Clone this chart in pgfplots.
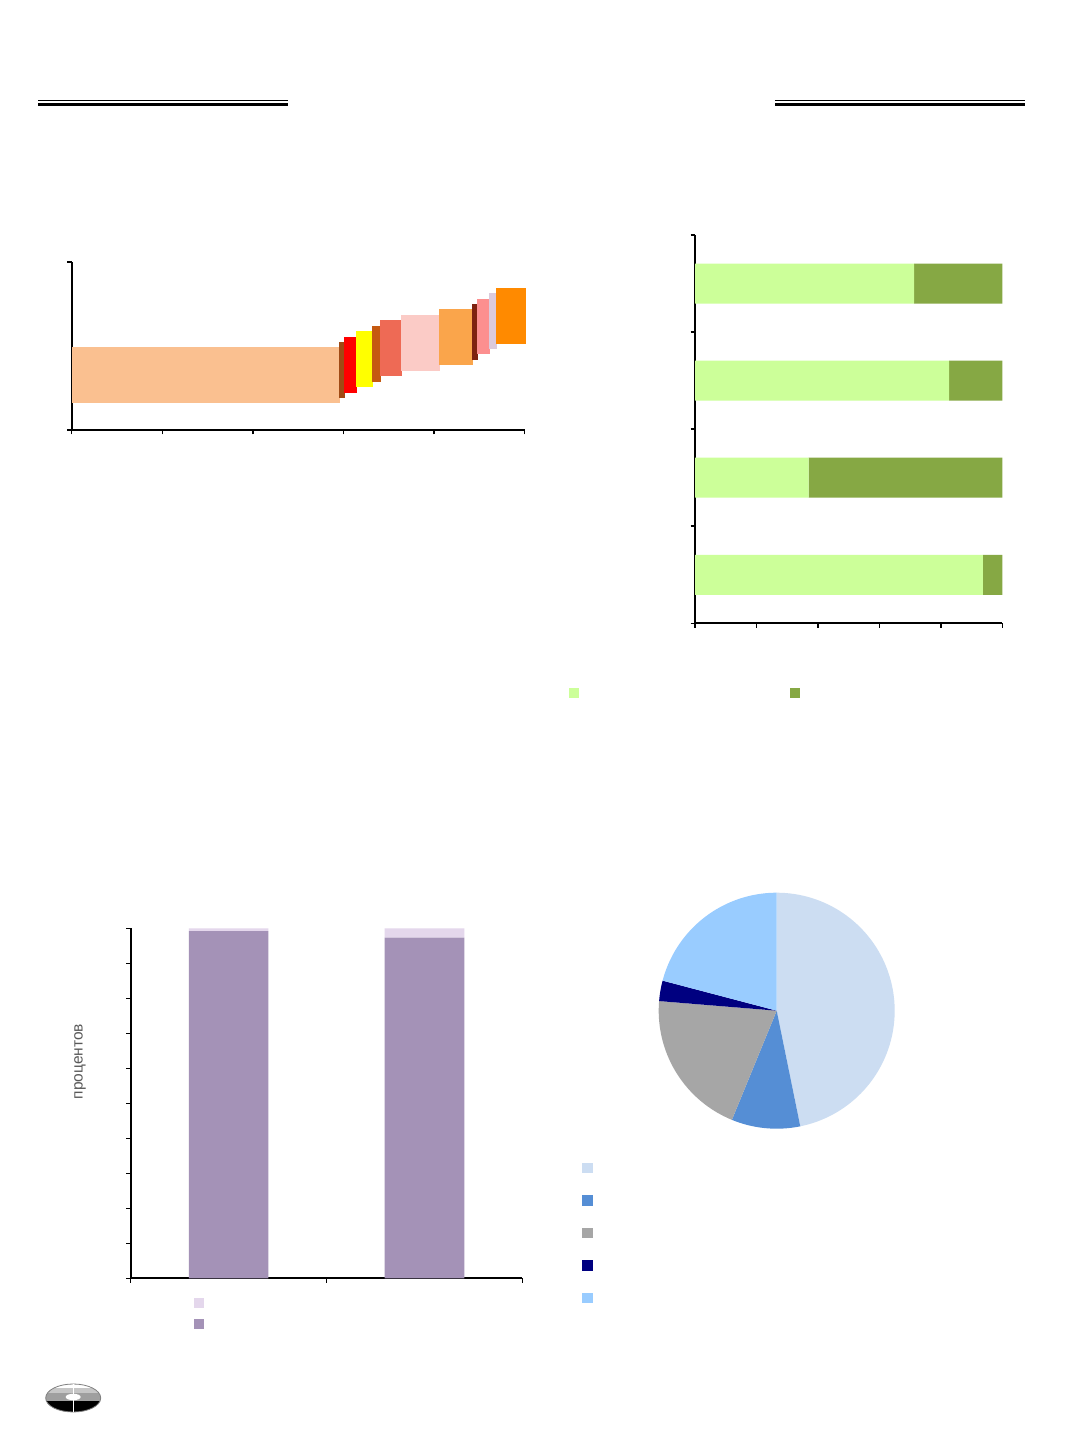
\documentclass[border=0pt]{standalone}
\usepackage{pgfplots}
\pgfplotsset{compat=1.18}
\usepackage{fontspec}
\setmainfont{Liberation Sans}
\definecolor{b1}{HTML}{FAC090}
\definecolor{b2}{HTML}{A04A14}
\definecolor{b3}{HTML}{FF0000}
\definecolor{b4}{HTML}{FFFF00}
\definecolor{b5}{HTML}{C55A11}
\definecolor{b6}{HTML}{EE6A55}
\definecolor{b7}{HTML}{FBCBC6}
\definecolor{b8}{HTML}{FAA54B}
\definecolor{b9}{HTML}{7E2210}
\definecolor{b10}{HTML}{FC8F8F}
\definecolor{b11}{HTML}{DCCADC}
\definecolor{b12}{HTML}{FF8A00}
\definecolor{lg}{HTML}{CCFF99}
\definecolor{dg}{HTML}{86A844}
\definecolor{pd}{HTML}{A492B7}
\definecolor{pl}{HTML}{E4D7EC}
\definecolor{p1}{HTML}{CCDDF2}
\definecolor{p2}{HTML}{558ED5}
\definecolor{p3}{HTML}{A6A6A6}
\definecolor{p4}{HTML}{000080}
\definecolor{p5}{HTML}{99CCFF}
\definecolor{textgray}{HTML}{595959}
\pgfplotsset{
  mystyle/.style={
    scale only axis, axis lines=left, enlargelimits=false,
    axis line style={-, line width=1.9pt, black},
    tick style={black, line width=1.5pt},
    major tick length=4.5pt, tick align=outside,
    xticklabels={}, yticklabels={},
    clip=false,
  },
}
\begin{document}
\begin{tikzpicture}[x=1pt,y=1pt]
\path[use as bounding box, fill=white] (0,0) rectangle (1072,1433);
% header rules
\draw[line width=1.3pt] (38,1332.2) -- (287.5,1332.2);
\draw[line width=3pt] (38,1328.2) -- (287.5,1328.2);
\draw[line width=1.3pt] (775,1332.2) -- (1025,1332.2);
\draw[line width=3pt] (775,1328.2) -- (1025,1328.2);

% ---------- Chart 1: cost curve ----------
\begin{axis}[mystyle, width=453pt, height=168pt, at={(71.7pt,1003pt)}, anchor=south west,
  xmin=0, xmax=5, ymin=0, ymax=1, xtick={0,1,2,3,4,5}, ytick={0,1}]
\addplot[fill=b1, draw=none] coordinates {(0,0.159) (2.96,0.159) (2.96,0.492) (0,0.492)} -- cycle;
\addplot[fill=b2, draw=none] coordinates {(2.950,0.192) (3.017,0.192) (3.017,0.522) (2.950,0.522)} -- cycle;
\addplot[fill=b3, draw=none] coordinates {(3.005,0.222) (3.152,0.222) (3.152,0.555) (3.005,0.555)} -- cycle;
\addplot[fill=b4, draw=none] coordinates {(3.135,0.256) (3.329,0.256) (3.329,0.589) (3.135,0.589)} -- cycle;
\addplot[fill=b5, draw=none] coordinates {(3.315,0.288) (3.414,0.288) (3.414,0.621) (3.315,0.621)} -- cycle;
\addplot[fill=b6, draw=none] coordinates {(3.400,0.321) (3.649,0.321) (3.649,0.655) (3.400,0.655)} -- cycle;
\addplot[fill=b7, draw=none] coordinates {(3.631,0.353) (4.065,0.353) (4.065,0.685) (3.631,0.685)} -- cycle;
\addplot[fill=b8, draw=none] coordinates {(4.054,0.385) (4.433,0.385) (4.433,0.718) (4.054,0.718)} -- cycle;
\addplot[fill=b9, draw=none] coordinates {(4.415,0.417) (4.488,0.417) (4.488,0.750) (4.415,0.750)} -- cycle;
\addplot[fill=b10, draw=none] coordinates {(4.477,0.454) (4.617,0.454) (4.617,0.778) (4.477,0.778)} -- cycle;
\addplot[fill=b11, draw=none] coordinates {(4.606,0.480) (4.698,0.480) (4.698,0.815) (4.606,0.815)} -- cycle;
\addplot[fill=b12, draw=none] coordinates {(4.680,0.514) (5.011,0.514) (5.011,0.847) (4.680,0.847)} -- cycle;
\end{axis}

% ---------- Chart 2: horizontal stacked bars ----------
\begin{axis}[mystyle, width=307.3pt, height=388.3pt, at={(695pt,809.7pt)}, anchor=south west,
  xbar stacked, bar width=40pt, xmin=0, xmax=100, ymin=-0.5, ymax=3.5,
  xtick={0,20,40,60,80,100}, ytick={-0.5,0.5,1.5,2.5,3.5},
  legend columns=2,
  legend image code/.code={\fill[#1] (0pt,-5pt) rectangle (10pt,5pt);},
  legend style={draw=none, fill=none, inner sep=0pt, nodes={inner sep=0pt},
    at={(axis description cs:-0.4123,-0.1787)}, anchor=west,
    /tikz/every even column/.append style={column sep=210pt}}]
\addplot[fill=lg, draw=none] coordinates {(93.7,0) (37.0,1) (82.7,2) (71.3,3)};
\addlegendentry{\mbox{}}
\addplot[fill=dg, draw=none] coordinates {(6.3,0) (63.0,1) (17.3,2) (28.7,3)};
\addlegendentry{\mbox{}}
\end{axis}

% ---------- Chart 3: vertical stacked 100% bars ----------
\begin{axis}[mystyle, width=391.6pt, height=350pt, at={(130.7pt,154.7pt)}, anchor=south west,
  ybar stacked, bar width=79.7pt, xmin=-0.5, xmax=1.5, ymin=0, ymax=100,
  xtick={-0.5,0.5,1.5}, ytick={0,10,20,30,40,50,60,70,80,90,100},
  ylabel={процентов},
  ylabel style={at={(axis description cs:-0.1295,0.619)}, anchor=center,
    font=\fontsize{15.5}{17}\selectfont, text=textgray},
  reverse legend,
  legend image code/.code={\fill[#1] (0pt,-5pt) rectangle (10pt,5pt);},
  legend style={draw=none, fill=none, inner sep=0pt, nodes={inner sep=0pt},
    row sep=11.3pt,
    at={(axis description cs:0.1599,-0.0554)}, anchor=north west}]
\addplot[fill=pd, draw=none] coordinates {(0,99.2) (1,97.3)};
\addlegendentry{\mbox{}}
\addplot[fill=pl, draw=none] coordinates {(0,0.8) (1,2.7)};
\addlegendentry{\mbox{}}
\end{axis}

% ---------- Chart 4: pie ----------
\begin{axis}[scale only axis, width=236pt, height=236pt, at={(658.7pt,304.3pt)}, anchor=south west,
  xmin=-1, xmax=1, ymin=-1, ymax=1, hide axis, clip=false,
  legend image code/.code={\fill[#1] (0pt,-5.35pt) rectangle (10.7pt,5.35pt);},
  legend style={draw=none, fill=none, inner sep=0pt, nodes={inner sep=0pt},
    row sep=21.8pt,
    at={(axis description cs:-0.325,-0.1424)}, anchor=north west}]
\addplot[fill=p1, draw=none, domain=0:46.8, samples=80] ({cos(90-3.6*x)},{sin(90-3.6*x)}) -- (0,0) -- cycle;
\addlegendentry{\mbox{}}
\addplot[fill=p2, draw=none, domain=46.8:56.2, samples=30] ({cos(90-3.6*x)},{sin(90-3.6*x)}) -- (0,0) -- cycle;
\addlegendentry{\mbox{}}
\addplot[fill=p3, draw=none, domain=56.2:76.3, samples=50] ({cos(90-3.6*x)},{sin(90-3.6*x)}) -- (0,0) -- cycle;
\addlegendentry{\mbox{}}
\addplot[fill=p4, draw=none, domain=76.3:79.1, samples=10] ({cos(90-3.6*x)},{sin(90-3.6*x)}) -- (0,0) -- cycle;
\addlegendentry{\mbox{}}
\addplot[fill=p5, draw=none, domain=79.1:100, samples=50] ({cos(90-3.6*x)},{sin(90-3.6*x)}) -- (0,0) -- cycle;
\addlegendentry{\mbox{}}
\end{axis}

% ---------- logo ----------
\begin{scope}
\clip (73.2,35) ellipse (27.5 and 14);
\fill[gray!75] (44,19) rectangle (102,51);
\fill[white] (44,44.5) rectangle (102,51);
\fill[gray!45] (44,39.5) rectangle (102,44.5);
\fill[black] (44,19) rectangle (102,31.5);
\end{scope}
\draw[gray, line width=0.8pt] (73.2,35) ellipse (27.5 and 14);
\fill[white] (73.2,36) ellipse (7.5 and 3.2);
\draw[white, line width=1.2pt] (73.2,21) -- (73.2,49);
\end{tikzpicture}
\end{document}
